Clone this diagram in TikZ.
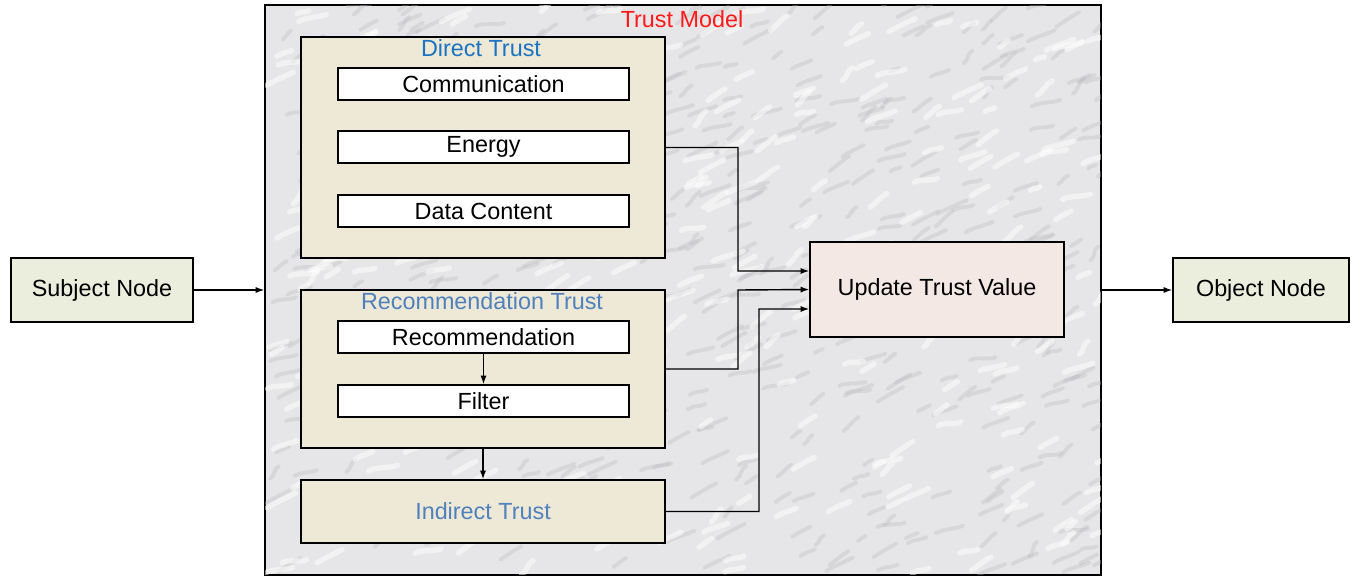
\documentclass[tikz,border=0pt]{standalone}
\usepackage{fontspec}
\setmainfont{Liberation Sans}
\usetikzlibrary{arrows.meta}
\definecolor{marble}{HTML}{E6E6E8}
\definecolor{vein}{HTML}{BDBDC2}
\definecolor{beige}{HTML}{EEE8D7}
\definecolor{olive}{HTML}{EBEEDC}
\definecolor{rose}{HTML}{F3E8E3}
\definecolor{dblue}{HTML}{1B74C1}
\definecolor{lblue}{HTML}{4F81BD}
\definecolor{tred}{HTML}{FF1A1A}
\tikzset{
  box/.style={draw, line width=.8pt, inner sep=0pt, font=\fontsize{13.3}{16}\selectfont},
  item/.style={box, fill=white, minimum width=5.82cm, minimum height=.64cm},
  group/.style={box, fill=beige, minimum width=7.28cm},
  arr/.style={-{Latex[length=5pt,width=3.5pt]}, line width=.8pt},
  title/.style={font=\fontsize{13.3}{16}\selectfont}
}
\begin{document}
\begin{tikzpicture}[x=0.02cm, y=-0.02cm]
  \useasboundingbox (0,0) rectangle (1361,575);
  %--- Trust model frame
  \node[box, fill=marble, minimum width=16.72cm, minimum height=11.4cm] (model) at (683,290) {};
  \begin{scope}
    \clip (265,5) rectangle (1101,575);
    \pgfmathsetseed{11}
    \foreach \i in {1,...,500}{
      \pgfmathsetmacro\px{265+836*rnd}
      \pgfmathsetmacro\py{5+570*rnd}
      \draw[vein, opacity=.35, line width=2.2pt, line cap=round] (\px,\py) .. controls +(6,-4) and +(-6,3) .. ++(22*rnd+8, -12*rnd-3);
    }
    \foreach \i in {1,...,300}{
      \pgfmathsetmacro\px{265+836*rnd}
      \pgfmathsetmacro\py{5+570*rnd}
      \draw[white, opacity=.5, line width=3pt, line cap=round] (\px,\py) .. controls +(6,-4) and +(-6,3) .. ++(22*rnd+8, -12*rnd-3);
    }
  \end{scope}
  \draw[line width=.8pt] (model.south west) rectangle (model.north east);
  \node[title, text=tred] (modeltitle) at (682,19) {Trust Model};
  %--- Direct trust
  \node[group, minimum height=4.42cm] (direct) at (483,147.5) {};
  \node[title, text=dblue] (directtitle) at (481,48) {Direct Trust};
  \node[item] (comm) at (483.5,84) {Communication};
  \node[item] (energy) at (483.5,147) {Energy};
  \node[item] (data) at (483.5,211) {Data Content};
  %--- Recommendation trust
  \node[group, minimum height=3.16cm] (recbox) at (483,369) {};
  \node[title, text=lblue] (rectitle) at (482,301) {Recommendation Trust};
  \node[item] (rec) at (483.5,337) {Recommendation};
  \node[item] (filter) at (483.5,401) {Filter};
  \node[group, minimum height=1.26cm, text=lblue] (indirect) at (483,511.5) {Indirect Trust};
  %--- Update and end nodes
  \node[box, fill=rose, minimum width=5.08cm, minimum height=1.9cm] (update) at (937,289.5) {Update Trust Value};
  \node[box, fill=olive, minimum width=3.64cm, minimum height=1.28cm] (subject) at (102,290) {Subject Node};
  \node[box, fill=olive, minimum width=3.52cm, minimum height=1.28cm] (object) at (1261,290) {Object Node};
  %--- Connectors
  \draw[arr] (subject.east) -- (model.west |- subject.east);
  \draw[arr] (model.east |- object.west) -- (object.west);
  \draw[arr] (rec.south) -- (filter.north);
  \draw[arr] (recbox.south) -- (indirect.north);
  \draw[arr] (direct.east) -| (738,271) -- ([yshift=.37cm]update.west);
  \draw[arr] (recbox.east) -| (738,290) -- (update.west);
  \draw[arr] (indirect.east) -| (759,309) -- ([yshift=-.39cm]update.west);
\end{tikzpicture}
\end{document}
